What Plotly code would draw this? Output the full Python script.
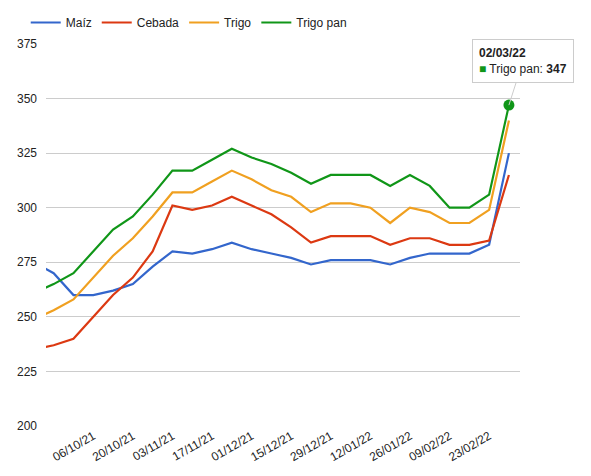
import pandas as pd
import plotly.graph_objects as go

# weekly price series (first point lies just left of the visible window)
dates = pd.date_range("2021-09-15", "2022-03-02", freq="7D")

maiz = [275, 270, 260, 260, 262, 265, 273, 280, 279, 281, 284, 281, 279, 277,
        274, 276, 276, 276, 274, 277, 279, 279, 279, 283, 325]
cebada = [235, 237, 240, 250, 260, 268, 280, 301, 299, 301, 305, 301, 297, 291,
          284, 287, 287, 287, 283, 286, 286, 283, 283, 285, 315]
trigo = [249, 253, 258, 268, 278, 286, 296, 307, 307, 312, 317, 313, 308, 305,
         298, 302, 302, 300, 293, 300, 298, 293, 293, 299, 340]
trigo_pan = [261, 265, 270, 280, 290, 296, 306, 317, 317, 322, 327, 323, 320, 316,
             311, 315, 315, 315, 310, 315, 310, 300, 300, 306, 347]

tick_dates = pd.date_range("2021-10-06", "2022-02-23", freq="14D")
tick_text = [d.strftime("%d/%m/%y") for d in tick_dates]

series = [
    ("Maíz", maiz, "#3366cc"),
    ("Cebada", cebada, "#dc3912"),
    ("Trigo", trigo, "#f0a020"),
    ("Trigo pan", trigo_pan, "#109618"),
]

fig = go.Figure()
for name, vals, color in series:
    fig.add_trace(go.Scatter(x=dates, y=vals, name=name, mode="lines",
                             line=dict(color=color, width=2.2)))

# highlighted point with tooltip
fig.add_trace(go.Scatter(x=[dates[-1]], y=[trigo_pan[-1]], mode="markers",
                         marker=dict(color="#109618", size=11), showlegend=False))
fig.add_annotation(
    x=dates[-1], y=trigo_pan[-1], ax=14, ay=-44, xanchor="center",
    text=f"<b>{dates[-1].strftime('%d/%m/%y')}</b>       <br><span style='color:#109618'>■</span> Trigo pan: <b>{trigo_pan[-1]}</b>",
    showarrow=True, arrowcolor="#cccccc", arrowhead=0, arrowwidth=1,
    align="left", bgcolor="white", bordercolor="#cccccc", borderwidth=1, borderpad=6,
    font=dict(size=12, color="#222"),
)

fig.update_xaxes(
    range=["2021-09-19 07:00", "2022-03-05 22:00"],
    tickvals=tick_dates, ticktext=tick_text, tickangle=-30,
    showgrid=False, showline=False, zeroline=False, ticks="",
    tickfont=dict(size=12, color="#222"),
)
fig.update_yaxes(
    range=[200, 375], dtick=25, gridcolor="#cccccc", zeroline=False,
    tickfont=dict(size=12, color="#222"), ticklabelstandoff=8,
)
fig.update_layout(
    width=591, height=476,
    margin=dict(l=38, r=79, t=36, b=58, autoexpand=False),
    plot_bgcolor="white", paper_bgcolor="white",
    font=dict(family="Liberation Sans, Arial", size=12),
    legend=dict(orientation="h", x=0.03, y=1.0, xanchor="left", yanchor="top",
                xref="container", yref="container",
                font=dict(size=12, color="#222")),
)

fig.write_html("out.html")
